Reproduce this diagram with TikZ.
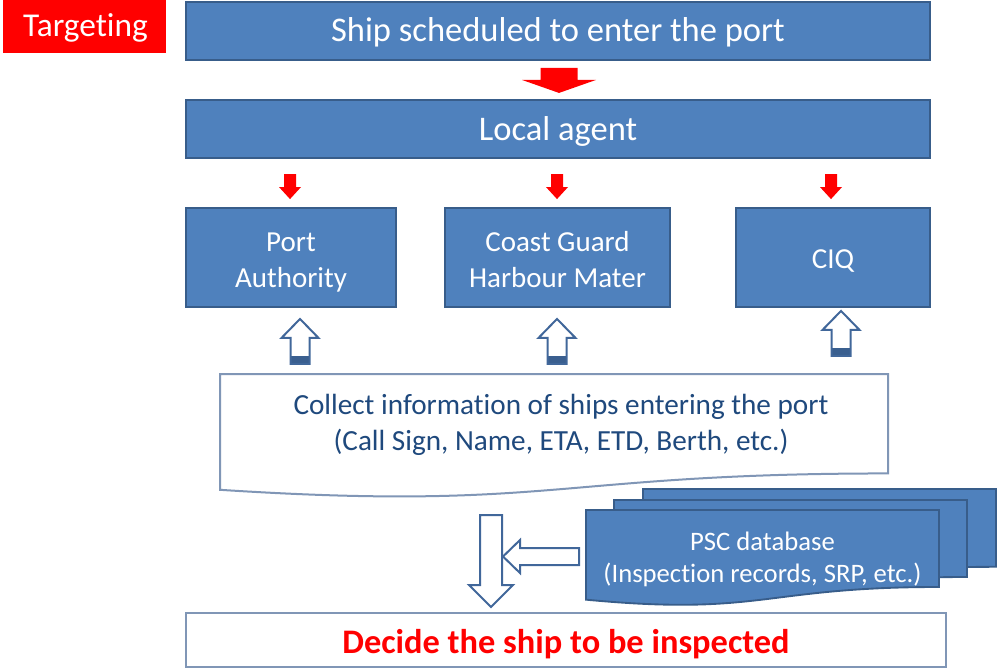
\documentclass[tikz,border=0pt]{standalone}
\usepackage{fontspec}
\setmainfont[Ligatures=NoCommon]{Carlito}
\usetikzlibrary{calc}

\definecolor{boxfill}{HTML}{4F81BD}
\definecolor{boxline}{HTML}{385D8A}
\definecolor{arrowred}{HTML}{FF0000}
\definecolor{hollowline}{HTML}{41679A}
\definecolor{banddark}{HTML}{3A5F8F}
\definecolor{docline}{HTML}{8096B6}
\definecolor{navytext}{HTML}{1F497D}

% flowchart "document" outline with a wavy lower edge: x0, y0, width, height
\newcommand\docshape[4]{(#1,#2) -- ({#1+#3},#2) -- ({#1+#3},{#2+0.802*#4})
  .. controls ({#1+0.5*#3},{#2+0.802*#4}) and ({#1+0.5*#3},{#2+1.1075*#4}) .. (#1,{#2+0.934*#4}) -- cycle}

\begin{document}
\begin{tikzpicture}[x=0.75pt,y=-0.75pt,
  bluebox/.style={draw=boxline, fill=boxfill, line width=1.4pt, inner sep=0pt},
  % text nodes sit on the baseline of their last line
  label/.style={anchor=base, align=center, inner sep=0pt},
  hollow/.style={draw=hollowline, line width=1.5pt, line join=miter},
  docwhite/.style={draw=docline, fill=white, line width=1.5pt},
  docblue/.style={draw=boxline, fill=boxfill, line width=1.4pt},
  bigfont/.style={font=\fontsize{25.9}{31}\selectfont},
  midfont/.style={font=\fontsize{21.75}{27}\selectfont},
  reddown/.pic={\fill[arrowred] (-6,0) -- (6,0) -- (6,13) -- (11,13) -- (0,25)
      -- (-11,13) -- (-6,13) -- cycle;},
  bigdown/.pic={\fill[arrowred] (-18.5,0) -- (18.5,0) -- (18.5,12) -- (37,12)
      -- (0,25) -- (-37,12) -- (-18.5,12) -- cycle;},
  holup/.pic={
    \fill[white] (0,0) -- (18.5,19) -- (9.5,19) -- (9.5,45) -- (-9.5,45)
      -- (-9.5,19) -- (-18.5,19) -- cycle;
    \fill[banddark] (-9.5,37) rectangle (9.5,45);
    \draw[hollow] (0,0) -- (18.5,19) -- (9.5,19) -- (9.5,45) -- (-9.5,45)
      -- (-9.5,19) -- (-18.5,19) -- cycle;}
]
\useasboundingbox (0,0) rectangle (998,670);

% title tag
\node[fill=arrowred, minimum width=163*0.75pt, minimum height=53*0.75pt,
  inner sep=0pt] (tag) at (84.5,26.5) {};
\node[label, text=white, font=\fontsize{25}{30}\selectfont] (tag-text)
  at ($(tag.center)+(1,10.5)$) {Targeting};

% top chain
\node[bluebox, minimum width=744*0.75pt, minimum height=58*0.75pt] (ship) at (558,31) {};
\node[label, bigfont, text=white] (ship-text) at ($(ship.center)+(0,11)$)
  {Ship scheduled to enter the port};
\node[bluebox, minimum width=744*0.75pt, minimum height=58*0.75pt] (agent) at (558,129) {};
\node[label, bigfont, text=white] (agent-text) at ($(agent.center)+(0,12)$) {Local agent};

\node[bluebox, minimum width=210*0.75pt, minimum height=99*0.75pt] (pa) at (291,257.5) {};
\node[label, midfont, text=white] (pa-text) at ($(pa.center)+(0,29.5)$) {Port\\Authority};
\node[bluebox, minimum width=225*0.75pt, minimum height=99*0.75pt] (cg) at (557.5,257.5) {};
\node[label, midfont, text=white] (cg-text) at ($(cg.center)+(0,29.5)$) {Coast Guard\\Harbour Mater};
\node[bluebox, minimum width=194*0.75pt, minimum height=99*0.75pt] (ciq) at (833,257.5) {};
\node[label, midfont, text=white] (ciq-text) at ($(ciq.center)+(0,10.5)$) {CIQ};

\pic at ($(ship.south)+(1,7)$) {bigdown};
\pic at ($(pa.north)+(-1,-33)$) {reddown};
\pic at ($(cg.north)+(-0.5,-33)$) {reddown};
\pic at ($(ciq.north)+(-2,-33)$) {reddown};

% information flowing up from the collection step
\pic at ($(pa.south)+(9,11)$) {holup};
\pic at ($(cg.south)+(-0.5,11)$) {holup};
\pic at ($(ciq.south)+(8,3)$) {holup};

\draw[docwhite] \docshape{220}{374}{668}{124};
\node[label, text=navytext, font=\fontsize{21.9}{27.2}\selectfont]
  (collect) at (561,450.5)
  {Collect information of ships entering the port\\(Call Sign, Name, ETA, ETD, Berth, etc.)};

% stacked database documents
\draw[docblue] \docshape{643}{489}{353}{97};
\draw[docblue] \docshape{614}{500}{353}{96};
\draw[docblue] \docshape{586}{510}{353}{96};
\node[label, text=white, font=\fontsize{20}{24}\selectfont]
  (psc) at (762.5,582) {PSC database\\(Inspection records, SRP, etc.)};

% decision
\node[draw=docline, fill=white, line width=1.5pt, minimum width=760*0.75pt,
  minimum height=54*0.75pt, inner sep=0pt] (decide) at (566,640) {};
\node[label, text=arrowred, font=\fontsize{25.8}{31}\selectfont\bfseries]
  (decide-text) at ($(decide.center)+(0,13)$) {Decide the ship to be inspected};

% hollow arrows into the decision
\coordinate (flowtop) at (491,515);
\coordinate (flowtip) at (491,607);
\draw[hollow, fill=white] ($(flowtop)+(-11,0)$) -- ($(flowtop)+(11,0)$)
  -- ($(flowtip)+(11,-22)$) -- ($(flowtip)+(22,-22)$) -- (flowtip)
  -- ($(flowtip)+(-22,-22)$) -- ($(flowtip)+(-11,-22)$) -- cycle;
\coordinate (dbtail) at (579,556.5);
\coordinate (dbtip) at (503,556.5);
\draw[hollow, fill=white] ($(dbtail)+(0,-8.5)$) -- ($(dbtail)+(0,8.5)$)
  -- ($(dbtip)+(17,8.5)$) -- ($(dbtip)+(17,16.5)$) -- (dbtip)
  -- ($(dbtip)+(17,-16.5)$) -- ($(dbtip)+(17,-8.5)$) -- cycle;
\end{tikzpicture}
\end{document}
